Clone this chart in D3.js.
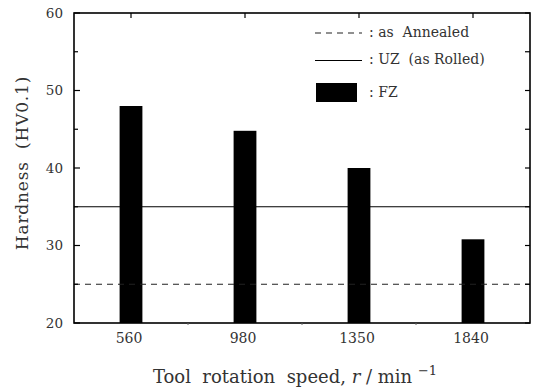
<!DOCTYPE html>
<html><head><meta charset="utf-8">
<script src="https://cdn.jsdelivr.net/npm/d3@7"></script>
<style>
body{margin:0;background:#fff;}
svg text{font-family:"DejaVu Serif","Liberation Serif",serif;fill:#333;white-space:pre;}
</style></head>
<body><svg id="c" width="534" height="391"></svg>
<script>
const speeds = ["560","980","1350","1840"];
const fzHardness = [48.0, 44.8, 40.0, 30.8];
const uzHardness = 35;
const annealedHardness = 25;
const yTicks = [20,30,40,50,60];
const yMinor = [25,35,45,55];
const legendLabels = [": as  Annealed", ": UZ  (as Rolled)", ": FZ"];

const svg = d3.select("#c");
const m = {l:74, r:530, t:13, b:323};
const x = d3.scaleBand().domain(speeds).range([m.l, m.r]).paddingInner(0.8).paddingOuter(0.4);
const y = d3.scaleLinear().domain([20,60]).range([m.b, m.t]);

// bars
svg.selectAll("rect.bar").data(fzHardness).join("rect")
  .attr("x",(d,i)=>x(speeds[i])).attr("width",x.bandwidth())
  .attr("y",d=>y(d)).attr("height",d=>y(20)-y(d))
  .attr("fill","#000");

// reference lines
svg.append("line").attr("x1",m.l).attr("x2",m.r).attr("y1",y(uzHardness)).attr("y2",y(uzHardness))
  .attr("stroke","#000").attr("stroke-width",1.2);
svg.append("line").attr("x1",m.l).attr("x2",m.r).attr("y1",y(annealedHardness)).attr("y2",y(annealedHardness))
  .attr("stroke","#222").attr("stroke-width",1.2).attr("stroke-dasharray","6,5");

// frame
svg.append("rect").attr("x",m.l).attr("y",m.t).attr("width",m.r-m.l).attr("height",m.b-m.t)
  .attr("fill","none").attr("stroke","#000").attr("stroke-width",1.6);

// y ticks left (major & minor)
const g = svg.append("g");
yTicks.forEach(v=>{
  g.append("line").attr("x1",m.l).attr("x2",m.l+6).attr("y1",y(v)).attr("y2",y(v)).attr("stroke","#000").attr("stroke-width",1.2);
  g.append("line").attr("x1",m.r).attr("x2",m.r-5).attr("y1",y(v)).attr("y2",y(v)).attr("stroke","#000").attr("stroke-width",1.2);
  g.append("text").attr("x",m.l-11).attr("y",y(v)).attr("dy","0.36em").attr("text-anchor","end")
    .attr("font-size",13.5).text(v);
});
yMinor.forEach(v=>{
  g.append("line").attr("x1",m.l).attr("x2",m.l+4).attr("y1",y(v)).attr("y2",y(v)).attr("stroke","#000").attr("stroke-width",1.2);
  g.append("line").attr("x1",m.r).attr("x2",m.r-5).attr("y1",y(v)).attr("y2",y(v)).attr("stroke","#000").attr("stroke-width",1.2);
});
// x ticks
speeds.forEach((s,i)=>{
  const cx = x(s)+x.bandwidth()/2;
  g.append("line").attr("x1",cx).attr("x2",cx).attr("y1",m.t).attr("y2",m.t+5).attr("stroke","#000").attr("stroke-width",1.2);
  g.append("text").attr("x",cx-2).attr("y",m.b+20).attr("text-anchor","middle").attr("font-size",14).text(s);
  if(i>0){
    const bx = x(s)-x.step()*0.4;
    g.append("line").attr("x1",bx).attr("x2",bx).attr("y1",m.b).attr("y2",m.b+2).attr("stroke","#666").attr("stroke-width",1);
  }
});

// axis titles
const xt = svg.append("text").attr("x",295).attr("y",383).attr("text-anchor","middle").attr("font-size",18);
xt.append("tspan").text("Tool  rotation  speed, ");
xt.append("tspan").attr("font-style","italic").text("r");
xt.append("tspan").text(" / min ");
xt.append("tspan").attr("font-size",13).attr("dy",-8).text("\u22121");

svg.append("text").attr("transform","translate(28,163) rotate(-90)").attr("text-anchor","middle")
  .attr("font-size",17).attr("letter-spacing","0.8px").text("Hardness  (HV0.1)");

// legend
const lg = svg.append("g");
lg.append("line").attr("x1",315).attr("x2",362).attr("y1",33).attr("y2",33).attr("stroke","#222").attr("stroke-width",1.2).attr("stroke-dasharray","6,5");
lg.append("line").attr("x1",315).attr("x2",362).attr("y1",60.5).attr("y2",60.5).attr("stroke","#000").attr("stroke-width",1.2);
lg.append("rect").attr("x",316).attr("y",83).attr("width",41).attr("height",19).attr("fill","#000");
const ly = [37,64,97];
legendLabels.forEach((t,i)=>{
  lg.append("text").attr("x",369).attr("y",ly[i]).attr("font-size",14).text(t);
});
</script></body></html>
